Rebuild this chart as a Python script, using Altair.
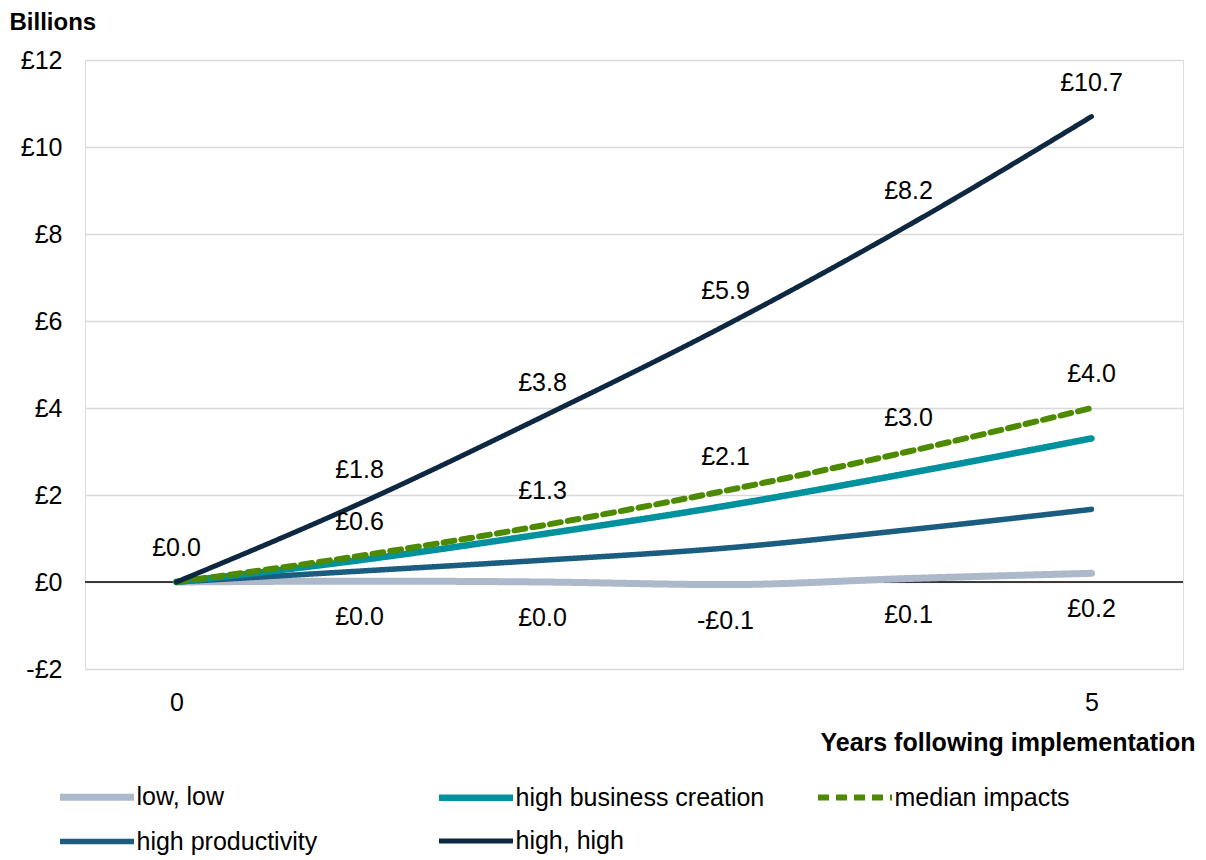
import altair as alt
import pandas as pd

years = [0, 1, 2, 3, 4, 5]
series_names = ["low, low", "high business creation", "median impacts",
                "high productivity", "high, high"]
low_low = [0.0, 0.02, 0.0, -0.06, 0.08, 0.2]
high_business = [0.0, 0.5, 1.1, 1.75, 2.5, 3.3]
median_impacts = [0.0, 0.6, 1.3, 2.1, 3.0, 4.0]
high_prod = [0.0, 0.25, 0.5, 0.78, 1.2, 1.67]
high_high = [0.0, 1.8, 3.8, 5.9, 8.2, 10.7]

high_high_labels = ["£0.0", "£1.8", "£3.8", "£5.9", "£8.2", "£10.7"]
median_labels = ["", "£0.6", "£1.3", "£2.1", "£3.0", "£4.0"]
low_low_labels = ["", "£0.0", "£0.0", "-£0.1", "£0.1", "£0.2"]

y_ticks = [-2, 0, 2, 4, 6, 8, 10, 12]
x_ticks = [0, 5]

colors = ["#adb9ca", "#00919e", "#4e8a00", "#1b5d80", "#0e2841"]
dashes = [[1, 0], [1, 0], [11, 7], [1, 0], [1, 0]]
widths = [7, 5, 5, 5, 5]

FONT = "Liberation Sans"
FS = 25

draw_order = [("low, low", low_low), ("high productivity", high_prod),
              ("high business creation", high_business),
              ("median impacts", median_impacts), ("high, high", high_high)]
rows = []
for name, vals in draw_order:
    for x, v in zip(years, vals):
        rows.append({"year": x, "value": v, "series": name})
lines_df = pd.DataFrame(rows)

lab_rows = []
for x, v, t in zip(years, high_high, high_high_labels):
    if t:
        lab_rows.append({"year": x, "value": v, "text": t, "pos": "above"})
for x, v, t in zip(years, median_impacts, median_labels):
    if t:
        lab_rows.append({"year": x, "value": v, "text": t, "pos": "above"})
for x, v, t in zip(years, low_low, low_low_labels):
    if t:
        lab_rows.append({"year": x, "value": v, "text": t, "pos": "below"})
labels_df = pd.DataFrame(lab_rows)

xscale = alt.Scale(domain=[-0.5, 5.5], nice=False, zero=False)
yscale = alt.Scale(domain=[-2, 12], nice=False)

x_axis = alt.Axis(values=x_ticks, format="d", grid=False, domain=False, ticks=False,
                  labelPadding=21, labelFontSize=FS, labelFont=FONT, labelColor="#000",
                  title="Years following implementation", titleFont=FONT,
                  titleFontSize=FS, titleFontWeight="bold", titleColor="#000",
                  titleAnchor="end", titleAlign="right", titleX=1110, titleY=81,
                  titleBaseline="alphabetic")
y_axis = alt.Axis(values=y_ticks, grid=True, gridColor="#d9d9d9", gridWidth=1.5,
                  domain=False, ticks=False, labelPadding=23, labelFontSize=FS,
                  labelFont=FONT, labelColor="#000",
                  labelExpr="datum.value < 0 ? '-£' + abs(datum.value) : '£' + datum.value",
                  title="Billions", titleFont=FONT, titleFontSize=FS - 1,
                  titleFontWeight="bold", titleColor="#000", titleAngle=0,
                  titleAlign="left", titleBaseline="alphabetic", titleX=-76, titleY=-31)

base = alt.Chart(lines_df)

zero_rule = alt.Chart(pd.DataFrame({"y": [0]})).mark_rule(color="#000", strokeWidth=1.5).encode(
    y=alt.Y("y:Q", scale=yscale, axis=y_axis)
)

legend = alt.Legend(title=None, orient="none", legendX=-1.5, legendY=723.5, columns=3,
                    direction="horizontal",
                    gridAlign="all", columnPadding=40, rowPadding=17,
                    labelFont=FONT, labelFontSize=FS, labelColor="#000",
                    symbolType="M-3.7,0H3.7", symbolSize=400, labelOffset=26,
                    labelLimit=400)

lines = base.mark_line(interpolate="monotone", strokeCap="round").encode(
    x=alt.X("year:Q", scale=xscale, axis=x_axis),
    y=alt.Y("value:Q", scale=yscale, axis=y_axis),
    color=alt.Color("series:N", scale=alt.Scale(domain=series_names, range=colors), legend=legend),
    strokeDash=alt.StrokeDash("series:N", scale=alt.Scale(domain=series_names, range=dashes), legend=legend),
    strokeWidth=alt.StrokeWidth("series:N", scale=alt.Scale(domain=series_names, range=widths), legend=legend),
    detail="series:N",
)

above = alt.Chart(labels_df).transform_filter("datum.pos == 'above'").mark_text(
    dy=-34, fontSize=FS, font=FONT, color="#000", baseline="middle", align="center"
).encode(x=alt.X("year:Q", scale=xscale), y=alt.Y("value:Q", scale=yscale), text="text:N")

below = alt.Chart(labels_df).transform_filter("datum.pos == 'below'").mark_text(
    dy=36, fontSize=FS, font=FONT, color="#000", baseline="middle", align="center"
).encode(x=alt.X("year:Q", scale=xscale), y=alt.Y("value:Q", scale=yscale), text="text:N")

chart = alt.layer(zero_rule, lines, above, below).properties(
    width=1098, height=609,
    autosize=alt.AutoSizeParams(type="none"),
    padding={"left": 85, "top": 60, "right": 23, "bottom": 191},
).configure_view(stroke=None).configure(background="white")

chart.save("out.html", embed_options={"renderer": "svg", "actions": False})
